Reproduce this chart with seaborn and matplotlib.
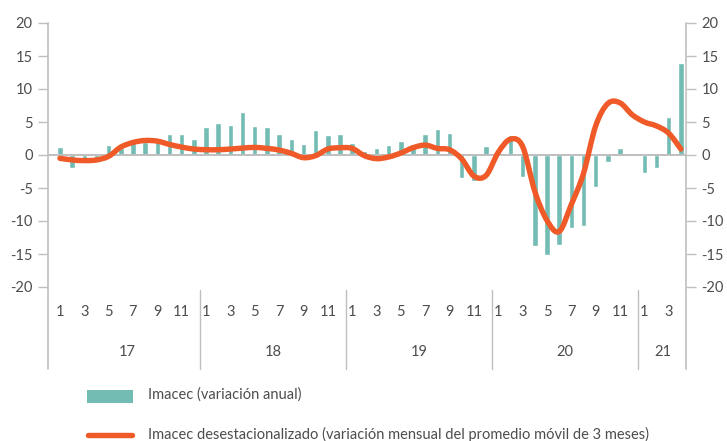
import numpy as np
import pandas as pd
import matplotlib
matplotlib.use("Agg")
import matplotlib.pyplot as plt
import matplotlib.transforms as mtransforms
from matplotlib.path import Path
from matplotlib.patches import PathPatch, Rectangle
from matplotlib.lines import Line2D
import seaborn as sns

# ---------------- data ----------------
years = ["17", "18", "19", "20", "21"]
months_per_year = [12, 12, 12, 12, 4]
month_tick_labels = ["1", "", "3", "", "5", "", "7", "", "9", "", "11", ""]

imacec_anual = [
    1.2, -1.9, -0.8, -0.6, 1.5, 1.0, 2.4, 2.0, 2.2, 3.2, 3.2, 2.4,      # 2017
    4.2, 4.8, 4.5, 6.5, 4.4, 4.2, 3.2, 2.4, 1.7, 3.8, 3.0, 3.2,         # 2018
    1.8, 0.6, 1.1, 1.5, 2.1, 1.7, 3.2, 3.9, 3.3, -3.5, -4.0, 1.4,      # 2019
    1.1, 3.0, -3.4, -13.8, -15.1, -13.6, -11.1, -10.8, -4.9, -1.0, 1.0, 0.1,  # 2020
    -2.8, -2.0, 5.8, 14.0,                                             # 2021
]
imacec_desest = [
    -0.5, -0.75, -0.85, -0.75, -0.2, 1.2, 1.9, 2.2, 2.1, 1.6, 1.2, 0.9,
    0.8, 0.8, 0.9, 1.05, 1.15, 1.0, 0.75, 0.25, -0.4, -0.1, 0.9, 1.1,
    1.0, -0.1, -0.55, -0.3, 0.3, 1.1, 1.5, 1.0, 0.8, -0.6, -3.2, -3.1,
    0.4, 2.4, 1.3, -5.5, -9.9, -11.6, -7.5, -2.8, 4.4, 7.8, 7.9, 6.1,
    5.0, 4.4, 3.3, 0.9,
]

# ---------------- styling ----------------
TEAL = "#72bcb4"
ORANGE = "#f05a28"
GRID = "#bfbfbf"
TXT = "#4d4d4d"
FONT = ["Lato", "DejaVu Sans"]

sns.set_style("white")
plt.rcParams["font.family"] = FONT

n = len(imacec_anual)
df = pd.DataFrame({"idx": np.arange(n), "anual": imacec_anual, "desest": imacec_desest})

fig = plt.figure(figsize=(7.27, 4.41), dpi=100)
ax = fig.add_axes([48 / 727, 1 - 287 / 441, (686 - 48) / 727, (287 - 23) / 441])

sns.barplot(data=df, x="idx", y="anual", color=TEAL, width=0.45,
            saturation=1, ax=ax, zorder=2)
ax.axhline(0, color=GRID, lw=1.4, zorder=2.5)

# smooth line (Catmull-Rom Bezier rendering through the monthly values)
xs = df["idx"].to_numpy(float)
ys = df["desest"].to_numpy(float)
pts = np.column_stack([xs, ys])
verts = [pts[0]]
codes = [Path.MOVETO]
for i in range(n - 1):
    p0 = pts[i - 1] if i > 0 else pts[i]
    p1 = pts[i]
    p2 = pts[i + 1]
    p3 = pts[i + 2] if i + 2 < n else pts[i + 1]
    c1 = p1 + (p2 - p0) / 6.0
    c2 = p2 - (p3 - p1) / 6.0
    verts += [c1, c2, p2]
    codes += [Path.CURVE4] * 3
patch = PathPatch(Path(verts, codes), facecolor="none", edgecolor=ORANGE,
                  lw=3.9, capstyle="round", joinstyle="round", zorder=3)
ax.add_patch(patch)

ax.set_xlim(-0.98, n - 1 + 0.42)
ax.set_ylim(-20, 20)
yt = [20, 15, 10, 5, 0, -5, -10, -15, -20]
ax.set_yticks(yt)
ax.set_yticklabels([str(v) for v in yt])
ax.tick_params(axis="y", length=7, width=1, color=GRID, labelcolor=TXT,
               labelsize=10.5, pad=4, direction="out")
ax.set_xticks([])
ax.set_xlabel("")
ax.set_ylabel("")
for s in ax.spines.values():
    s.set_visible(False)

ax2 = ax.twinx()
ax2.set_ylim(-20, 20)
ax2.set_yticks(yt)
ax2.set_yticklabels([str(v) for v in yt])
ax2.tick_params(axis="y", length=7, width=1, color=GRID, labelcolor=TXT,
                labelsize=10.5, pad=4, direction="out")
for s in ax2.spines.values():
    s.set_visible(False)

# axis lines and year separators (extend below plot into label area)
trans = mtransforms.blended_transform_factory(ax.transData, ax.transAxes)
for xa in (0.0, 1.0):
    ax.add_line(Line2D([xa, xa], [1.0, -0.31], transform=ax.transAxes,
                       color=GRID, lw=1.2, clip_on=False, zorder=1))
start = 0
for k, (yr, m) in enumerate(zip(years, months_per_year)):
    for j in range(m):
        lab = month_tick_labels[j]
        if lab:
            ax.text(start + j, -0.095, lab, transform=trans, ha="center",
                    va="center", fontsize=10.5, color=TXT)
    ax.text(start + (m - 1) / 2, -0.245, yr, transform=trans, ha="center",
            va="center", fontsize=10.5, color=TXT)
    end = start + m
    if k < len(years) - 1:
        ax.add_line(Line2D([end - 0.5, end - 0.5], [-0.012, -0.31], transform=trans,
                           color=GRID, lw=1.0, clip_on=False))
    start = end

# legend
fig.patches.append(Rectangle((87 / 727, 1 - 403 / 441), 46 / 727, 13 / 441,
                             transform=fig.transFigure, facecolor=TEAL,
                             edgecolor="none"))
fig.text(148 / 727, 1 - 395 / 441, "Imacec (variación anual)", ha="left",
         va="center", fontsize=10.5, color=TXT)
fig.lines.append(Line2D([88 / 727, 132 / 727], [1 - 435 / 441, 1 - 435 / 441],
                        transform=fig.transFigure, color=ORANGE, lw=3.9,
                        solid_capstyle="round"))
fig.text(148 / 727, 1 - 434 / 441,
         "Imacec desestacionalizado (variación mensual del promedio móvil de 3 meses)",
         ha="left", va="center", fontsize=10.5, color=TXT)

fig.savefig("out.png", dpi=100)
